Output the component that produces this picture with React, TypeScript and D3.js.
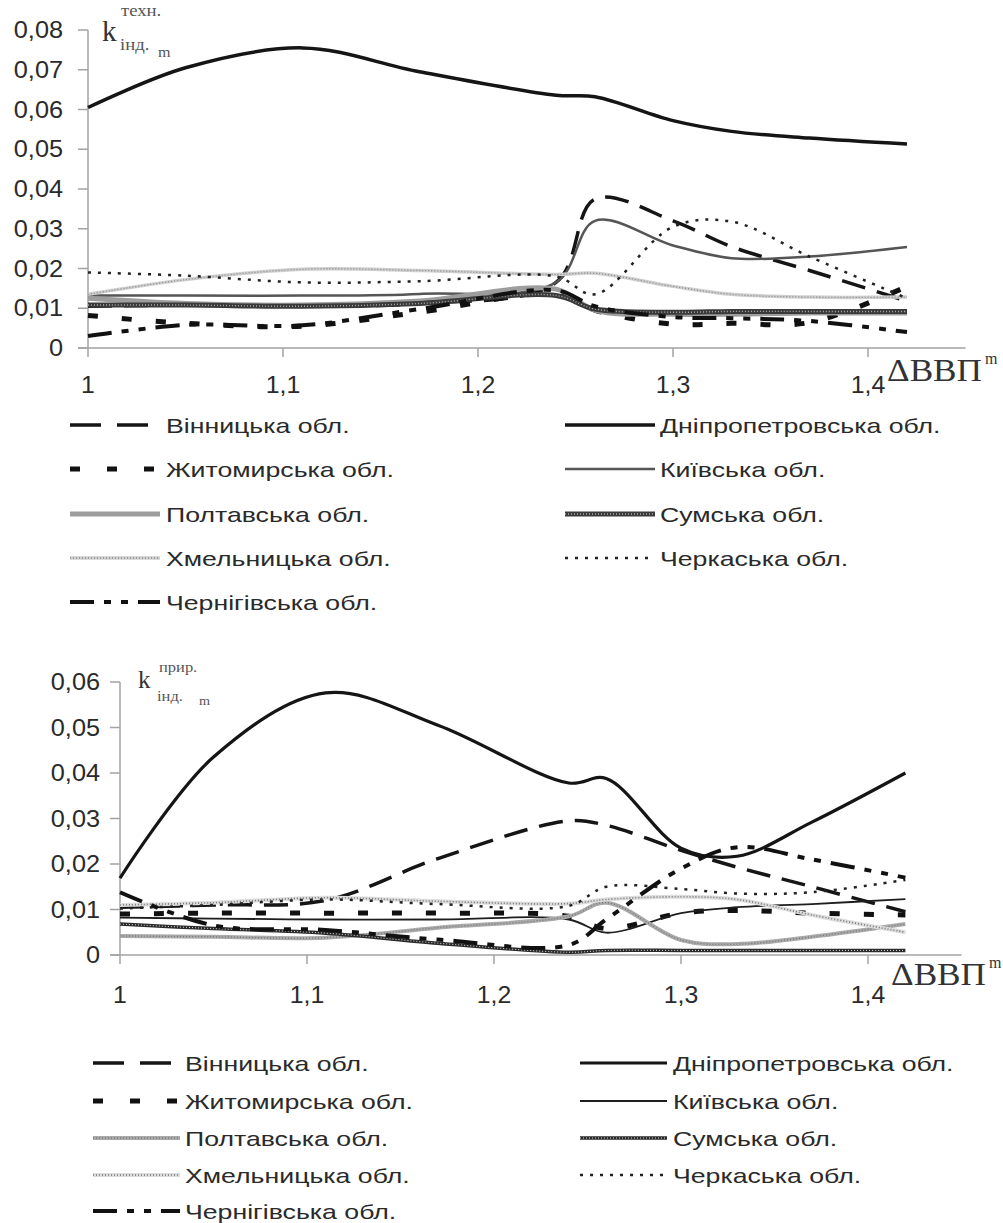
import React from "react";
import * as d3 from "d3";

// shared x positions (ΔВВП) for every series
const xValues = [1, 1.05, 1.11, 1.17, 1.24, 1.26, 1.3, 1.33, 1.37, 1.42];

const regions = [
  "Вінницька обл.",
  "Дніпропетровська обл.",
  "Житомирська обл.",
  "Київська обл.",
  "Полтавська обл.",
  "Сумська обл.",
  "Хмельницька обл.",
  "Черкаська обл.",
  "Чернігівська обл.",
];

// upper chart: k інд. m (техн.)
const techVinnytsia = [0.0105, 0.0108, 0.0108, 0.0112, 0.0165, 0.0375, 0.032, 0.0255, 0.0195, 0.0118];
const techDnipro = [0.0605, 0.0705, 0.0755, 0.0695, 0.0636, 0.0632, 0.0572, 0.0545, 0.0528, 0.0513];
const techZhytomyr = [0.0082, 0.0062, 0.0055, 0.009, 0.0135, 0.0095, 0.006, 0.0062, 0.0064, 0.0155];
const techKyiv = [0.0132, 0.0132, 0.0132, 0.0136, 0.0165, 0.032, 0.0258, 0.0226, 0.023, 0.0254];
const techPoltava = [0.0125, 0.0112, 0.0108, 0.0118, 0.0148, 0.0095, 0.0085, 0.0085, 0.0088, 0.0088];
const techSumy = [0.0108, 0.0108, 0.0105, 0.0112, 0.0132, 0.0098, 0.009, 0.0092, 0.0092, 0.0092];
const techKhmelnytskyi = [0.0135, 0.0172, 0.0198, 0.0195, 0.0185, 0.0188, 0.0155, 0.0135, 0.0128, 0.0128];
const techCherkasy = [0.019, 0.0182, 0.0165, 0.0168, 0.018, 0.0135, 0.0305, 0.0318, 0.023, 0.0125];
const techChernihiv = [0.003, 0.0058, 0.0057, 0.0098, 0.0145, 0.0105, 0.0078, 0.0075, 0.0068, 0.004];

// lower chart: k інд. m (прир.)
const natVinnytsia = [0.0105, 0.011, 0.012, 0.0212, 0.0295, 0.0285, 0.023, 0.0193, 0.015, 0.0095];
const natDnipro = [0.0169, 0.0435, 0.0576, 0.0505, 0.0378, 0.0388, 0.0235, 0.0217, 0.0292, 0.04];
const natZhytomyr = [0.009, 0.0092, 0.0092, 0.0092, 0.0085, 0.0058, 0.0092, 0.0098, 0.0092, 0.0088];
const natKyiv = [0.0082, 0.008, 0.0078, 0.0078, 0.0078, 0.0049, 0.0092, 0.0105, 0.0112, 0.0123];
const natPoltava = [0.0042, 0.004, 0.0038, 0.006, 0.0085, 0.0115, 0.0033, 0.0024, 0.004, 0.0068];
const natSumy = [0.0068, 0.0058, 0.0048, 0.0026, 0.0006, 0.001, 0.001, 0.001, 0.001, 0.001];
const natKhmelnytskyi = [0.011, 0.0115, 0.0126, 0.0118, 0.0113, 0.0122, 0.0128, 0.0122, 0.0088, 0.005];
const natCherkasy = [0.0102, 0.011, 0.0122, 0.0112, 0.0108, 0.015, 0.0145, 0.0135, 0.0138, 0.0165];
const natChernihiv = [0.0138, 0.0065, 0.0055, 0.0034, 0.0022, 0.0078, 0.019, 0.0237, 0.021, 0.017];

const techSeries = [techVinnytsia, techDnipro, techZhytomyr, techKyiv, techPoltava, techSumy, techKhmelnytskyi, techCherkasy, techChernihiv];
const natSeries = [natVinnytsia, natDnipro, natZhytomyr, natKyiv, natPoltava, natSumy, natKhmelnytskyi, natCherkasy, natChernihiv];

const xTicks = [1, 1.1, 1.2, 1.3, 1.4];
const techYTicks = [0, 0.01, 0.02, 0.03, 0.04, 0.05, 0.06, 0.07, 0.08];
const natYTicks = [0, 0.01, 0.02, 0.03, 0.04, 0.05, 0.06];

const fmt = (v) => String(+v.toFixed(3)).replace(".", ",");

const techStyles = [
  { stroke: "#151515", width: 3.5, dash: "24 12" },
  { stroke: "#151515", width: 3.5 },
  { stroke: "#111", width: 5, dash: "10 24" },
  { stroke: "#555", width: 2.5 },
  { stroke: "#9d9d9d", width: 5 },
  { stroke: "#3a3a3a", width: 5, over: { stroke: "#aaa", width: 1.4, dash: "1 2" } },
  { stroke: "#cfcfcf", width: 3.5, over: { stroke: "#8a8a8a", width: 1.3, dash: "1 2" } },
  { stroke: "#222", width: 2.5, dash: "3 7" },
  { stroke: "#111", width: 4, dash: "24 10 7 10 7 10" },
];

const natStyles = [
  { stroke: "#151515", width: 3.5, dash: "24 12" },
  { stroke: "#151515", width: 3.2 },
  { stroke: "#111", width: 5, dash: "10 24" },
  { stroke: "#1e1e1e", width: 1.8 },
  { stroke: "#aaa", width: 4, over: { stroke: "#777", width: 1.4, dash: "1 2" } },
  { stroke: "#2a2a2a", width: 3.5, over: { stroke: "#ddd", width: 1, dash: "1 2" } },
  { stroke: "#dcdcdc", width: 4, over: { stroke: "#777", width: 1.6, dash: "1 2" } },
  { stroke: "#222", width: 2.5, dash: "3 7" },
  { stroke: "#111", width: 4, dash: "24 10 7 10 7 10" },
];

const SANS = "'Liberation Sans', Arial, sans-serif";
const SERIF = "'Liberation Serif', 'Times New Roman', serif";

function Stretched({ x, y, sx, anchor = "start", size, family = SANS, fill = "#2a2a2a", children }) {
  return (
    <g transform={`translate(${x},${y}) scale(${sx},1)`}>
      <text textAnchor={anchor} fontSize={size} fontFamily={family} fill={fill}>
        {children}
      </text>
    </g>
  );
}

function StyledPath({ d, st }) {
  return (
    <g fill="none" strokeLinejoin="round">
      <path d={d} stroke={st.stroke} strokeWidth={st.width} strokeDasharray={st.dash} />
      {st.over && (
        <path d={d} stroke={st.over.stroke} strokeWidth={st.over.width} strokeDasharray={st.over.dash} />
      )}
    </g>
  );
}

function Chart({ series, styles, yTicks, yMax, geo, sup }) {
  const x = d3.scaleLinear().domain([1, 1.45]).range([geo.left, geo.right]);
  const y = d3.scaleLinear().domain([0, yMax]).range([geo.bottom, geo.top]);
  const line = d3
    .line()
    .x((d) => x(d[0]))
    .y((d) => y(d[1]))
    .curve(d3.curveCatmullRom.alpha(0.5));

  const axis = "#a3a3a3";
  const k = geo.k;
  return (
    <g>
      {/* axes */}
      <line x1={geo.left} x2={geo.left} y1={y(yMax)} y2={geo.bottom} stroke={axis} strokeWidth={1.5} />
      <line x1={geo.left - 10} x2={geo.right} y1={geo.bottom} y2={geo.bottom} stroke={axis} strokeWidth={1.5} />
      {yTicks.map((t) => (
        <g key={"y" + t}>
          <line x1={geo.left - 10} x2={geo.left} y1={y(t)} y2={y(t)} stroke={axis} strokeWidth={1.5} />
          <Stretched x={geo.yLabelX} y={y(t) + 8} sx={1.1} anchor="end" size={23}>
            {fmt(t)}
          </Stretched>
        </g>
      ))}
      {xTicks.map((t) => (
        <g key={"x" + t}>
          <line x1={x(t)} x2={x(t)} y1={geo.bottom} y2={geo.bottom + 9} stroke={axis} strokeWidth={1.5} />
          <Stretched x={x(t)} y={geo.xLabelY} sx={1.08} anchor="middle" size={23}>
            {fmt(t)}
          </Stretched>
        </g>
      ))}

      {/* series */}
      {series.map((vals, i) => (
        <StyledPath key={regions[i]} d={line(xValues.map((xv, j) => [xv, vals[j]]))} st={styles[i]} />
      ))}

      {/* axis titles */}
      <Stretched x={k.x} y={k.y} sx={1} size={k.size} family={SERIF} fill="#333">
        k
      </Stretched>
      <Stretched x={k.supX} y={k.supY} sx={1.1} size={k.small} family={SERIF} fill="#555">
        {sup}
      </Stretched>
      <Stretched x={k.subX} y={k.subY} sx={1.1} size={k.small} family={SERIF} fill="#555">
        інд.
      </Stretched>
      <Stretched x={k.mX} y={k.mY} sx={1.05} size={k.small * 0.9} family={SERIF} fill="#555">
        m
      </Stretched>
      <Stretched x={geo.dX} y={geo.dY} sx={1.1} size={32} family={SERIF} fill="#333">
        ΔВВП
      </Stretched>
      <Stretched x={geo.dX + 98} y={geo.dY - 17} sx={1} size={16} family={SERIF} fill="#333">
        m
      </Stretched>
    </g>
  );
}

function Legend({ styles, geo }) {
  const left = [0, 2, 4, 6, 8];
  const right = [1, 3, 5, 7];
  const item = (i, row, col) => {
    const c = geo.cols[col];
    const cy = geo.rows[row];
    const st = styles[i];
    const d = `M${c.x1},${cy}L${c.x2},${cy}`;
    return (
      <g key={regions[i]}>
        <StyledPath d={d} st={{ ...st, dash: st.dash ? st.legendDash || st.dash : undefined }} />
        <Stretched x={c.tx} y={cy + 8} sx={1.27} size={21}>
          {regions[i]}
        </Stretched>
      </g>
    );
  };
  return (
    <g>
      {left.map((i, r) => item(i, r, 0))}
      {right.map((i, r) => item(i, r, 1))}
    </g>
  );
}

const techLegendStyles = techStyles.map((s, i) =>
  i === 0 ? { ...s, legendDash: "31 16" } : i === 2 ? { ...s, legendDash: "10 27" } : s
);
const natLegendStyles = natStyles.map((s, i) =>
  i === 0 ? { ...s, legendDash: "31 16" } : i === 2 ? { ...s, legendDash: "10 27" } : s
);

export default function App() {
  const topGeo = {
    left: 88, right: 965.5, top: 30, bottom: 348,
    yLabelX: 63, xLabelY: 393,
    k: { x: 102, y: 41, size: 29, small: 17, supX: 121, supY: 16, subX: 120, subY: 50, mX: 158, mY: 57 },
    dX: 887, dY: 381,
  };
  const botGeo = {
    left: 120, right: 961.5, top: 682, bottom: 955,
    yLabelX: 100, xLabelY: 1003,
    k: { x: 138, y: 688, size: 25, small: 15, supX: 159, supY: 672, subX: 157, subY: 701, mX: 199, mY: 705 },
    dX: 891, dY: 985,
  };
  return (
    <svg
      width={1003}
      height={1223}
      style={{ position: "absolute", left: 0, top: 0, background: "#fff" }}
    >
      <rect width={1003} height={1223} fill="#fff" />
      <Chart series={techSeries} styles={techStyles} yTicks={techYTicks} yMax={0.08} geo={topGeo} sup="техн." />
      <Legend
        styles={techLegendStyles}
        geo={{
          cols: [{ x1: 70, x2: 160, tx: 166 }, { x1: 565, x2: 655, tx: 660 }],
          rows: [425, 469, 514, 558, 602],
        }}
      />
      <Chart series={natSeries} styles={natStyles} yTicks={natYTicks} yMax={0.06} geo={botGeo} sup="прир." />
      <Legend
        styles={natLegendStyles}
        geo={{
          cols: [{ x1: 93, x2: 180, tx: 185 }, { x1: 580, x2: 667, tx: 673 }],
          rows: [1063, 1101, 1138, 1175, 1211],
        }}
      />
    </svg>
  );
}
